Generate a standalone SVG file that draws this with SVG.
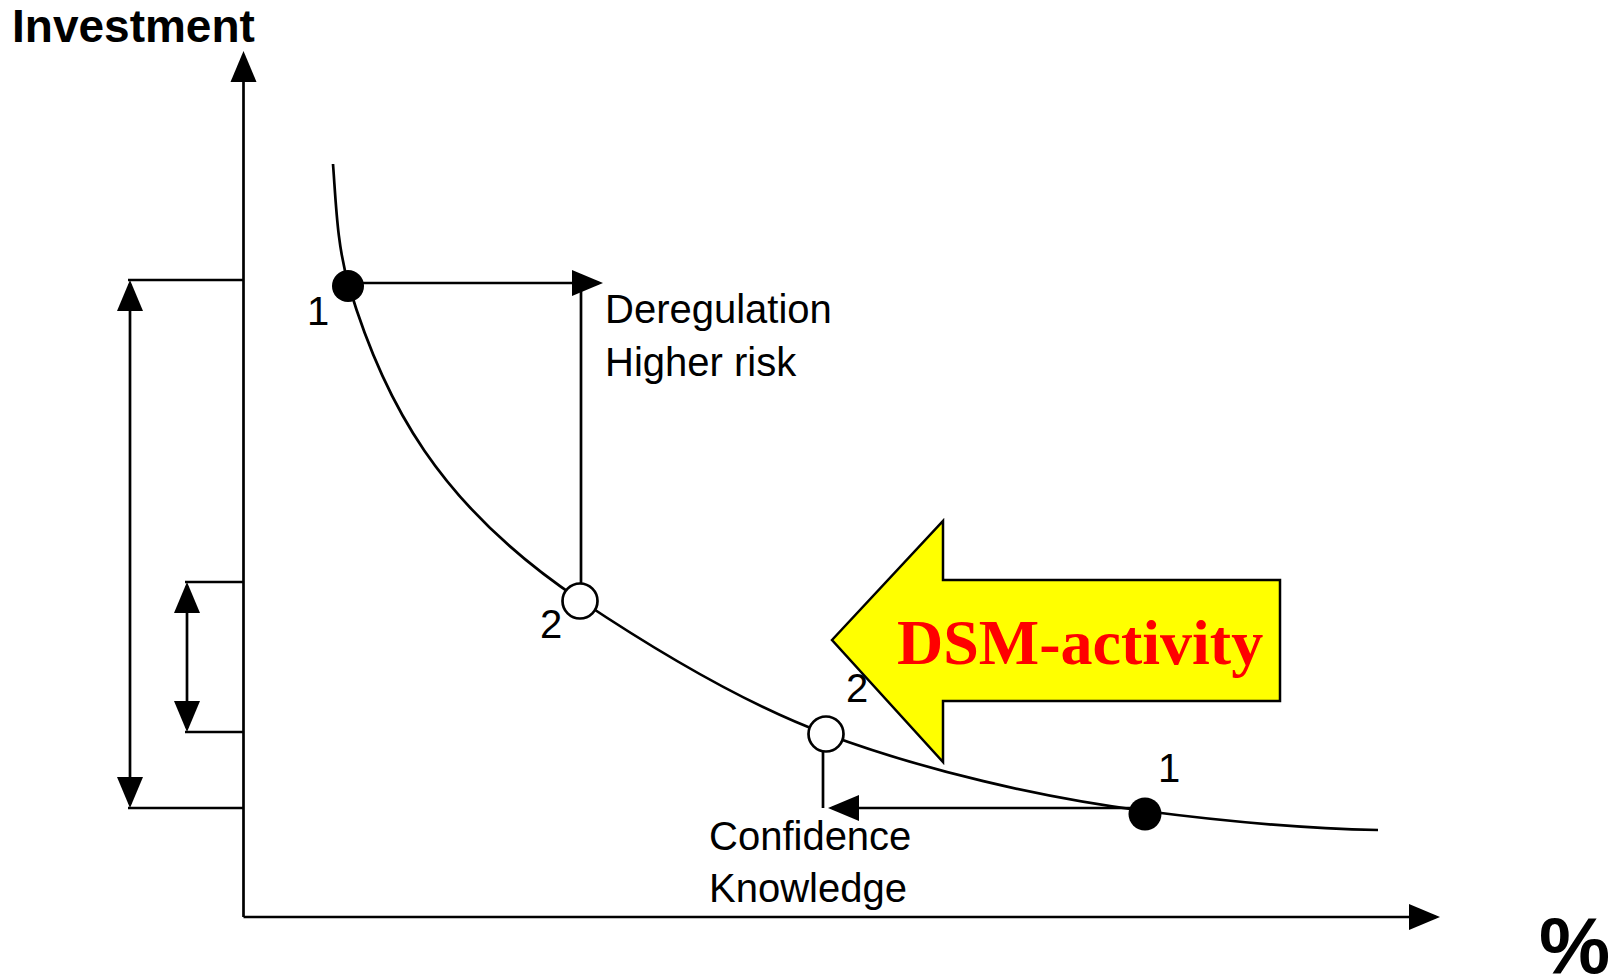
<svg xmlns="http://www.w3.org/2000/svg" width="1619" height="977" viewBox="0 0 1619 977">
<style>
  .ln { stroke: #000; stroke-width: 2.7; fill: none; }
  .ar { marker-end: url(#ah); }
  .dbl { marker-start: url(#ah); marker-end: url(#ah); }
  .txt { font-family: "Liberation Sans", Arial, sans-serif; font-size: 40px; fill: #000; }
  .bold { font-weight: bold; }
  .dot { fill: #000; }
  .open { fill: #fff; stroke: #000; stroke-width: 2.7; }
</style>
<defs>
  <marker id="ah" markerUnits="userSpaceOnUse" markerWidth="31" markerHeight="26" viewBox="0 0 31 26" refX="27" refY="13" orient="auto-start-reverse" overflow="visible">
    <path d="M0,0 L31,13 L0,26 Z" fill="#000"/>
  </marker>
</defs>
<rect width="1619" height="977" fill="#fff"/>

<g id="axes">
  <line class="ln ar" x1="243.5" y1="917" x2="243.5" y2="55"/>
  <line class="ln ar" x1="243.5" y1="917" x2="1436" y2="917"/>
</g>

<g id="connectors">
  <line class="ln" x1="128" y1="280" x2="243.5" y2="280"/>
  <line class="ln" x1="185" y1="582" x2="243.5" y2="582"/>
  <line class="ln" x1="185" y1="732" x2="243.5" y2="732"/>
  <line class="ln" x1="128" y1="808" x2="243.5" y2="808"/>
  <line class="ln dbl" x1="130" y1="284" x2="130" y2="804"/>
  <line class="ln dbl" x1="187" y1="586" x2="187" y2="728"/>
  <line class="ln ar" x1="348" y1="283" x2="599" y2="283"/>
  <line class="ln" x1="581" y1="601" x2="581" y2="283"/>
  <line class="ln" x1="823" y1="716" x2="823" y2="808"/>
  <line class="ln ar" x1="1145" y1="808" x2="832" y2="808"/>
</g>

<g id="curve">
  <path class="ln" d="M333,164 C336.1,205 337.2,246.7 349,286 C383.4,401 438.7,505.5 580,600 C654.8,650 741.6,702.8 826,734 C925.4,770.8 1039.9,797.3 1145,811 C1222.3,821.1 1300,828.4 1378,830"/>
</g>

<g id="point-1-top">
  <circle class="dot" cx="348" cy="286" r="16"/>
  <text class="txt" x="307" y="325">1</text>
</g>
<g id="point-2-mid">
  <circle class="open" cx="580" cy="601" r="17.5"/>
  <text class="txt" x="540" y="638">2</text>
</g>
<g id="point-2-low">
  <circle class="open" cx="826" cy="734" r="17.5"/>
</g>
<g id="point-1-low">
  <circle class="dot" cx="1145" cy="814" r="16.5"/>
  <text class="txt" x="1158" y="782">1</text>
</g>

<g id="dsm-arrow">
  <polygon points="832,640 943,521 943,580 1280,580 1280,701 943,701 943,762" fill="#ffff00" stroke="#000" stroke-width="2.5"/>
  <text x="897" y="664" font-family="'Liberation Serif', 'Times New Roman', serif" font-weight="bold" font-size="64" fill="#ff0000">DSM-activity</text>
</g>
<text class="txt" x="846" y="702">2</text>

<g id="labels">
  <text class="txt bold" x="12" y="42" style="font-size:46px">Investment</text>
  <text class="txt" x="605" y="323">Deregulation</text>
  <text class="txt" x="605" y="376">Higher risk</text>
  <text class="txt" x="709" y="850">Confidence</text>
  <text class="txt" x="709" y="902">Knowledge</text>
  <text class="txt bold" x="1539" y="973" style="font-size:80px">%</text>
</g>
</svg>
